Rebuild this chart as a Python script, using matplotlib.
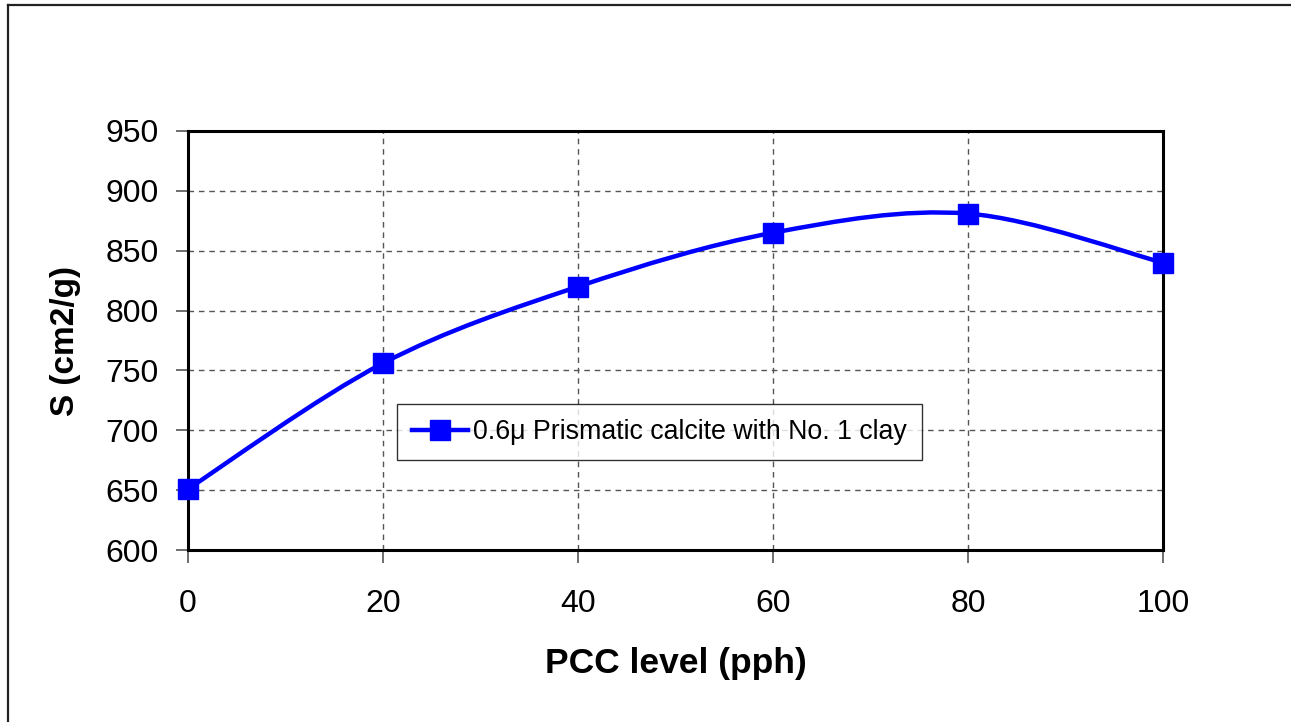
import matplotlib
matplotlib.use("Agg")
import matplotlib.pyplot as plt
import numpy as np
from matplotlib.path import Path
from matplotlib.patches import PathPatch
from matplotlib.lines import Line2D
from matplotlib import font_manager as fm

pcc_level = [0, 20, 40, 60, 80, 100]
s_values = [651, 756, 820, 865, 881, 840]
series_label = "0.6\u03bc Prismatic calcite with No. 1 clay"
x_label = "PCC level (pph)"
y_label = "S (cm2/g)"
x_ticks = [0, 20, 40, 60, 80, 100]
y_ticks = [600, 650, 700, 750, 800, 850, 900, 950]

plt.rcParams['font.family'] = ['Liberation Sans', 'DejaVu Sans']

leg_prop = fm.FontProperties(family=['Liberation Sans', 'DejaVu Sans'], size=19.3)

fig = plt.figure(figsize=(12.91, 7.22), dpi=100)
ax = fig.add_axes([188/1291, 1-550/722, (1163-188)/1291, (550-131)/722])

blue = '#0000FF'

# smooth (Excel-style Bezier) curve through the data points
pts = np.column_stack([pcc_level, s_values]).astype(float)
n = len(pts)
verts = [tuple(pts[0])]
codes = [Path.MOVETO]
for i in range(n - 1):
    p0 = pts[i - 1] if i > 0 else pts[i]
    p1 = pts[i]
    p2 = pts[i + 1]
    p3 = pts[i + 2] if i + 2 < n else pts[i + 1]
    c1 = p1 + (p2 - p0) / 6.0
    c2 = p2 - (p3 - p1) / 6.0
    verts += [tuple(c1), tuple(c2), tuple(p2)]
    codes += [Path.CURVE4] * 3
patch = PathPatch(Path(verts, codes), facecolor='none', edgecolor=blue, lw=3.2,
                  zorder=3, clip_on=False, capstyle='round', joinstyle='round')
ax.add_patch(patch)
ax.plot(pcc_level, s_values, linestyle='none', marker='s', markersize=14.5,
        color=blue, zorder=4, clip_on=False)

ax.set_xlim(0, 100)
ax.set_ylim(600, 950)
ax.set_xticks(x_ticks)
ax.set_yticks(y_ticks)
ax.tick_params(axis='both', labelsize=23, length=9, width=1.2, color='#555555',
               direction='out')
ax.tick_params(axis='y', pad=12)
ax.tick_params(axis='x', pad=19)
ax.grid(True, color='#555555', linestyle=(0, (4, 3.5)), linewidth=1.0)
ax.set_axisbelow(True)
for sp in ax.spines.values():
    sp.set_linewidth(2.2)
    sp.set_color('black')

ax.set_xlabel(x_label, fontsize=25.5, fontweight='bold', labelpad=20)
ax.set_ylabel(y_label, fontsize=24, fontweight='bold', labelpad=18)

handle = Line2D([], [], color=blue, lw=3.2, marker='s', markersize=14.5)
leg = fig.legend([handle], [series_label], loc='center left',
                 bbox_to_anchor=(397/1291, 1-432/722), prop=leg_prop,
                 frameon=True, fancybox=False, edgecolor='black',
                 borderpad=0.55, handlelength=2.1, handletextpad=0.2,
                 borderaxespad=0)
leg.get_frame().set_linewidth(1.0)

# outer chart border (left and top visible)
fig.add_artist(Line2D([7.5/1291, 7.5/1291], [0, 1-4.5/722], color='#222222', lw=1.6))
fig.add_artist(Line2D([7.5/1291, 1], [1-4.5/722, 1-4.5/722], color='#222222', lw=1.6))

fig.savefig("out.png", dpi=100)
